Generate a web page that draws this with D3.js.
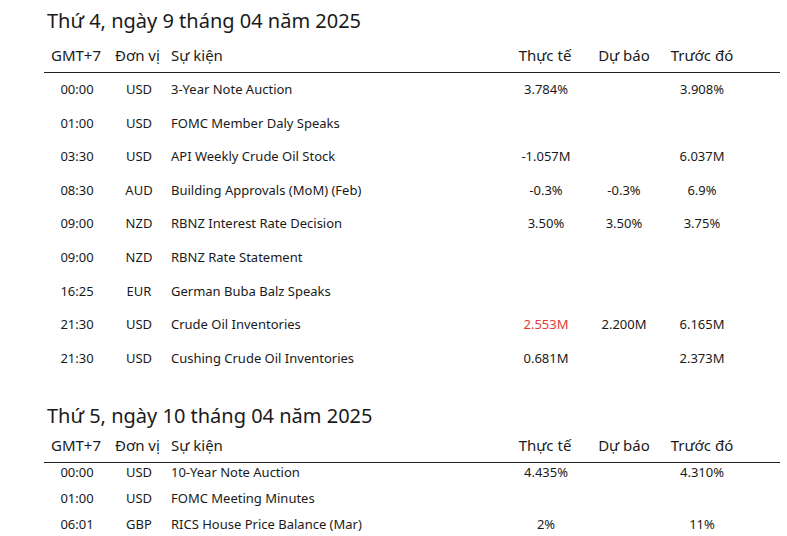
<!DOCTYPE html>
<html>
<head>
<meta charset="utf-8">
<script src="https://cdn.jsdelivr.net/npm/d3@7"></script>
<style>
  body { margin: 0; background: #fff; }
  text { font-family: 'Noto Sans', sans-serif; fill: #1a1a1a; }
</style>
</head>
<body>
<svg id="chart" width="787" height="536"></svg>
<script>
'use strict'

const headers = ['GMT+7', 'Đơn vị', 'Sự kiện', 'Thực tế', 'Dự báo', 'Trước đó']

const day1Title = 'Thứ 4, ngày 9 tháng 04 năm 2025'
const day1Rows = [
  ['00:00', 'USD', '3-Year Note Auction', '3.784%', '', '3.908%'],
  ['01:00', 'USD', 'FOMC Member Daly Speaks', '', '', ''],
  ['03:30', 'USD', 'API Weekly Crude Oil Stock', '-1.057M', '', '6.037M'],
  ['08:30', 'AUD', 'Building Approvals (MoM) (Feb)', '-0.3%', '-0.3%', '6.9%'],
  ['09:00', 'NZD', 'RBNZ Interest Rate Decision', '3.50%', '3.50%', '3.75%'],
  ['09:00', 'NZD', 'RBNZ Rate Statement', '', '', ''],
  ['16:25', 'EUR', 'German Buba Balz Speaks', '', '', ''],
  ['21:30', 'USD', 'Crude Oil Inventories', '2.553M', '2.200M', '6.165M'],
  ['21:30', 'USD', 'Cushing Crude Oil Inventories', '0.681M', '', '2.373M']
]
// actual values shown in red (worse than forecast)
const day1Red = ['21:30|Crude Oil Inventories']

const day2Title = 'Thứ 5, ngày 10 tháng 04 năm 2025'
const day2Rows = [
  ['00:00', 'USD', '10-Year Note Auction', '4.435%', '', '4.310%'],
  ['01:00', 'USD', 'FOMC Meeting Minutes', '', '', ''],
  ['06:01', 'GBP', 'RICS House Price Balance (Mar)', '2%', '', '11%']
]

const svg = d3.select('#chart')

// column x positions and anchors
const colX = [77, 139, 171, 546, 624, 702]
const colAnchor = ['middle', 'middle', 'start', 'middle', 'middle', 'middle']
const headX = [51, 115, 171, 545, 624, 702]
const headAnchor = ['start', 'start', 'start', 'middle', 'middle', 'middle']

function drawDay (title, rows, top, titleY, rowY, rowStep, red) {
  const g = svg.append('g').attr('transform', `translate(0,${top})`)
  g.append('text').attr('x', 47).attr('y', titleY)
    .style('font-size', '20px').text(title)
  g.selectAll('.head').data(headers).enter().append('text')
    .attr('x', (d, i) => headX[i]).attr('y', 61)
    .attr('text-anchor', (d, i) => headAnchor[i])
    .style('font-size', '15px').text(d => d)
  g.append('line').attr('x1', 44).attr('x2', 780).attr('y1', 72.5).attr('y2', 72.5)
    .attr('stroke', '#222').attr('stroke-width', 1)

  const y = d3.scaleLinear().domain([0, 1]).range([0, rowStep])
  const rowG = g.selectAll('.row').data(rows).enter().append('g')
    .attr('transform', (d, i) => `translate(0,${rowY + y(i)})`)
  rowG.selectAll('text').data(d => d.map(v => ({ v, key: d[0] + '|' + d[2] })))
    .enter().append('text')
    .attr('x', (d, i) => colX[i])
    .attr('text-anchor', (d, i) => colAnchor[i])
    .style('font-size', '13px')
    .style('fill', (d, i) => (i === 3 && red.includes(d.key)) ? '#e53935' : null)
    .text(d => d.v)
}

drawDay(day1Title, day1Rows, 0, 28, 94, 33.6, day1Red)
drawDay(day2Title, day2Rows, 390, 33, 87, 26, [])
</script>
</body>
</html>
